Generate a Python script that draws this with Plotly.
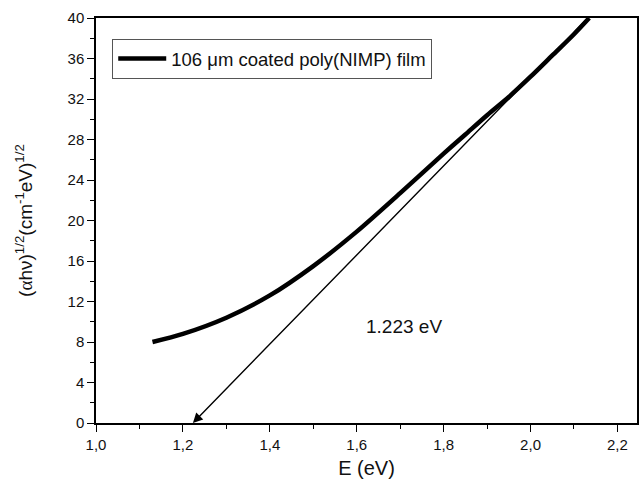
import plotly.graph_objects as go

# Tauc plot data: photon energy (eV) vs (alpha*h*nu)^(1/2)
energy = [1.13, 1.20, 1.30, 1.40, 1.50, 1.60, 1.70, 1.80, 1.85, 1.90, 1.95, 2.00, 2.05, 2.10, 2.135]
tauc = [8.0, 8.8, 10.4, 12.6, 15.5, 18.9, 22.7, 26.6, 28.5, 30.4, 32.2, 34.2, 36.3, 38.4, 40.0]

# Linear extrapolation to the energy axis
gap_energy = 1.223
fit_top = (2.132, 40.0)

x_ticks = [1.0, 1.2, 1.4, 1.6, 1.8, 2.0, 2.2]
y_ticks = [0, 4, 8, 12, 16, 20, 24, 28, 32, 36, 40]

FONT = "Arial, Liberation Sans, sans-serif"

fig = go.Figure()
fig.add_trace(go.Scatter(
    x=energy, y=tauc, mode="lines",
    line=dict(color="black", width=4.5, shape="spline", smoothing=0.8),
    name="106 \u03bcm coated poly(NIMP) film",
))

fig.add_annotation(
    x=gap_energy, y=0, xref="x", yref="y",
    ax=fit_top[0], ay=fit_top[1], axref="x", ayref="y",
    showarrow=True, arrowhead=2, arrowsize=1.4, arrowwidth=1.4, arrowcolor="black",
    text="",
)
fig.add_annotation(
    x=1.708, y=9.5, xref="x", yref="y", showarrow=False,
    text=f"{gap_energy} eV", font=dict(family=FONT, size=19, color="#111"),
)

axis_font = dict(family=FONT, size=15, color="#111")
fig.update_layout(
    width=644, height=486,
    margin=dict(l=96, r=5, t=18, b=63),
    paper_bgcolor="white", plot_bgcolor="white",
    separators=",.",
    showlegend=True,
    legend=dict(
        x=0.03, y=0.948, xanchor="left", yanchor="top",
        bgcolor="white", bordercolor="#555", borderwidth=1,
        font=dict(family=FONT, size=18.5, color="#111"),
        itemwidth=48, tracegroupgap=0,
    ),
    xaxis=dict(
        range=[1.0, 2.245], tickvals=x_ticks, tickformat=".1f",
        ticks="outside", ticklen=7, tickwidth=1.4, tickcolor="black",
        minor=dict(ticks="outside", dtick=0.1, tick0=1.0, ticklen=4, tickwidth=1.4, tickcolor="black"),
        showline=True, linecolor="black", linewidth=1.5, mirror=True,
        showgrid=False, zeroline=False, tickfont=axis_font,
        title=dict(text="E (eV)", font=dict(family=FONT, size=20, color="#111"), standoff=9),
    ),
    yaxis=dict(
        range=[0, 40], tickvals=y_ticks,
        ticks="outside", ticklen=7, tickwidth=1.4, tickcolor="black",
        minor=dict(ticks="outside", dtick=2, tick0=0, ticklen=4, tickwidth=1.4, tickcolor="black"),
        showline=True, linecolor="black", linewidth=1.5, mirror=True,
        showgrid=False, zeroline=False, tickfont=axis_font,
        title=dict(
            text="(<span style=\"font-family:Liberation Serif\">\u03b1</span>h\u03bd)"
                 "<sup>1/2</sup>(cm<sup>-1</sup>eV)<sup>1/2</sup>",
            font=dict(family=FONT, size=19, color="#111"), standoff=30,
        ),
    ),
)

fig.write_html("out.html")
